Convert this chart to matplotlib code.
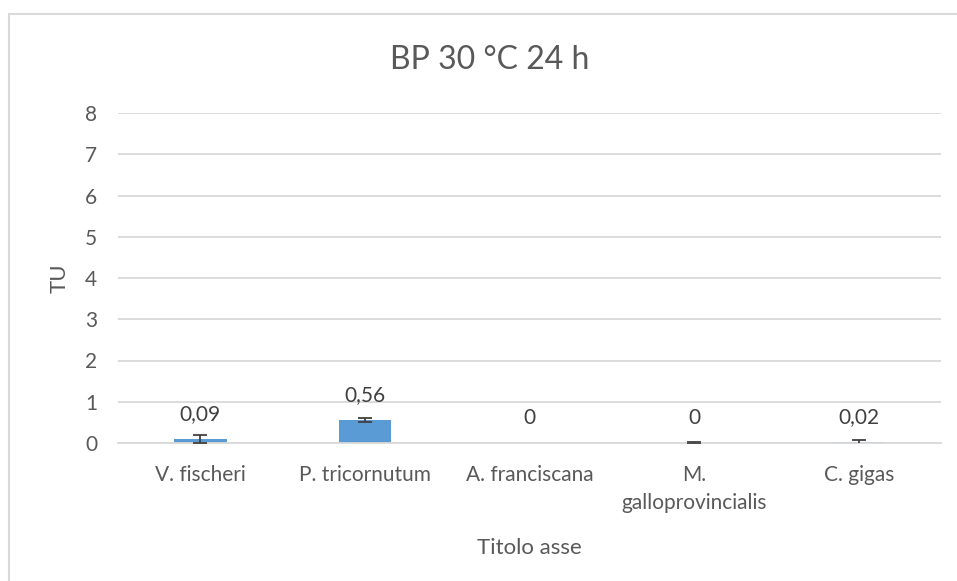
import numpy as np
import matplotlib.pyplot as plt
from matplotlib.patches import Rectangle

# --- Data ---
species = ["V. fischeri", "P. tricornutum", "A. franciscana",
           "M.\ngalloprovincialis", "C. gigas"]
tu_values = [0.09, 0.56, 0, 0, 0.02]
tu_errors = [0.10, 0.04, 0, 0.03, 0.06]
value_labels = ["0,09", "0,56", "0", "0", "0,02"]
y_ticks = [0, 1, 2, 3, 4, 5, 6, 7, 8]

TEXT = "#595959"
GRID = "#d9d9d9"
BAR = "#5b9bd5"

plt.rcParams['font.family'] = ['Lato', 'DejaVu Sans']

fig = plt.figure(figsize=(9.57, 5.81), dpi=100)

# chart frame
fig.patches.append(Rectangle((9 / 957, -0.05), 1.05, 1 - 14 / 581 + 0.05,
                             transform=fig.transFigure, fill=False,
                             edgecolor=GRID, linewidth=1.5))

ax = fig.add_axes([118 / 957, 1 - 443 / 581, (941 - 118) / 957, (443 - 113) / 581])

x = np.arange(len(species))
ax.bar(x, tu_values, width=0.32, color=BAR, zorder=2)

# error bars only where there is a spread to show
err = np.array(tu_errors)
has_err = err > 0
ax.errorbar(x[has_err], np.array(tu_values)[has_err], yerr=err[has_err],
            fmt='none', ecolor="#404040", elinewidth=1.3, capsize=5,
            capthick=1.3, zorder=3)

for xi, v, lab in zip(x, tu_values, value_labels):
    ax.annotate(lab, (xi, v), xytext=(0, 18), textcoords='offset points',
                ha='center', va='center', fontsize=15, color="#404040")

ax.set_xlim(-0.5, len(species) - 0.5)
ax.set_ylim(0, 8)
ax.set_yticks(y_ticks)
ax.set_yticklabels([str(t) for t in y_ticks])
ax.set_xticks(x)
ax.set_xticklabels(species, linespacing=1.5)
ax.tick_params(length=0, labelsize=15, colors=TEXT)
ax.tick_params(axis='y', pad=15)
ax.tick_params(axis='x', pad=16)
ax.grid(axis='y', color=GRID, linewidth=1.3, zorder=0)
for s in ax.spines.values():
    s.set_visible(False)
ax.spines['bottom'].set_visible(True)
ax.spines['bottom'].set_color(GRID)
ax.spines['bottom'].set_linewidth(1.3)

ax.set_ylabel("TU", fontsize=16, color=TEXT, labelpad=11)
ax.set_xlabel("Titolo asse", fontsize=16, color=TEXT, labelpad=18)
fig.text(490 / 957, 1 - 60 / 581, "BP 30 °C 24 h", ha='center', va='center',
         fontsize=23, color=TEXT)

fig.savefig("out.png", dpi=100)
